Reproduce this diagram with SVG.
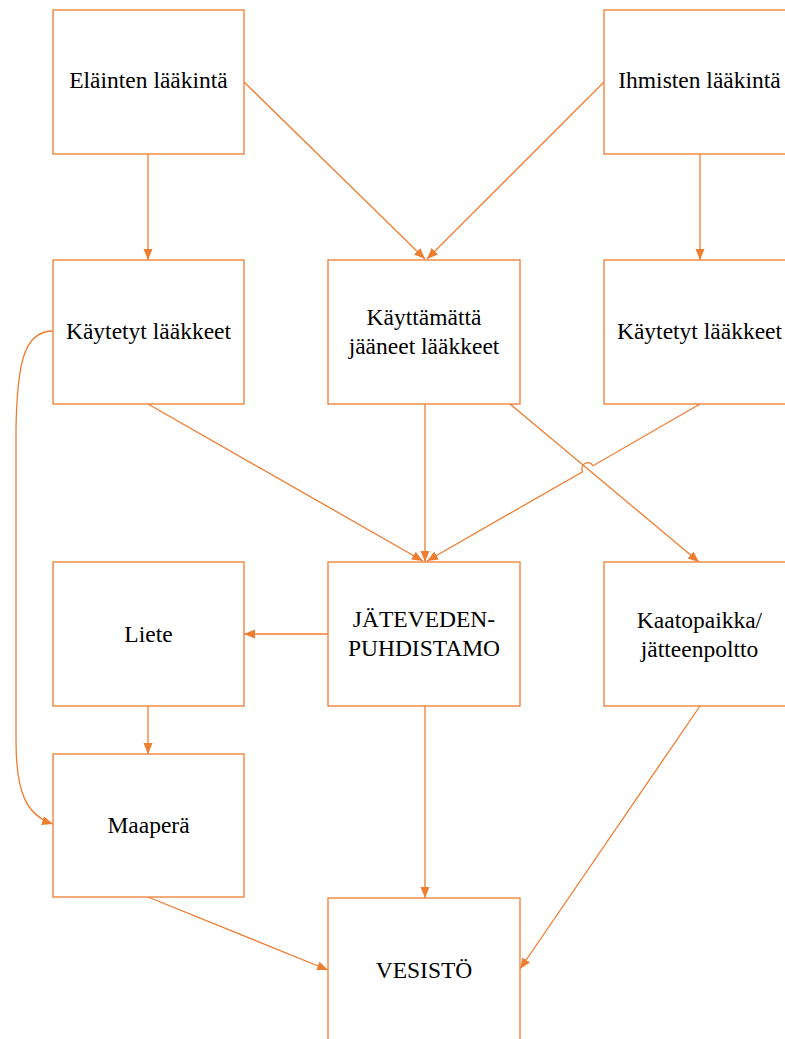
<svg xmlns="http://www.w3.org/2000/svg" width="785" height="1039" viewBox="0 0 785 1039">
  <style>
    .box { fill: #FFFFFF; stroke: #ED7D31; stroke-width: 1.3; }
    .lbl { font-family: "Liberation Serif", "Times New Roman", serif; font-size: 23.5px; fill: #000000; text-anchor: middle; }
    .edge { fill: none; stroke: #ED7D31; stroke-width: 1.3; marker-end: url(#arrow); }
  </style>
  <defs>
    <marker id="arrow" markerUnits="userSpaceOnUse" markerWidth="12" markerHeight="10" refX="11" refY="4.5" orient="auto">
      <path d="M0,0 L11,4.5 L0,9 z" fill="#ED7D31"/>
    </marker>
  </defs>
  <rect width="785" height="1039" fill="#FFFFFF"/>

  <!-- connectors -->
  <g id="connectors">
    <path class="edge" d="M148,154 L148,260"/>
    <path class="edge" d="M244,82 L425,259"/>
    <path class="edge" d="M604,82 L427,259"/>
    <path class="edge" d="M700,154 L700,260"/>
    <path class="edge" d="M148,404 L423,561"/>
    <path class="edge" d="M425,404 L425,562"/>
    <path class="edge" d="M700,404 L593,465.7 A6,6 0 0 0 582.6,471.7 L427,561"/>
    <path class="edge" d="M510,404 L699,562"/>
    <path class="edge" d="M328,634 L244,634"/>
    <path class="edge" d="M148,706 L148,754"/>
    <path class="edge" d="M425,706 L425,898"/>
    <path class="edge" d="M148,897 L328,970"/>
    <path class="edge" d="M700,706 L520,969"/>
    <path class="edge" d="M53,331 C25,331 17,360 16,430 L16,740 C16,790 25,815 53,824"/>
  </g>

  <!-- row 1 -->
  <g id="elainten-laakinta">
    <rect class="box" x="53" y="10" width="191" height="144"/>
    <text class="lbl" x="148.5" y="88">Eläinten lääkintä</text>
  </g>
  <g id="ihmisten-laakinta">
    <rect class="box" x="604" y="10" width="191" height="144"/>
    <text class="lbl" x="699.5" y="88">Ihmisten lääkintä</text>
  </g>

  <!-- row 2 -->
  <g id="kaytetyt-elain">
    <rect class="box" x="53" y="260" width="191" height="144"/>
    <text class="lbl" x="148.5" y="339">Käytetyt lääkkeet</text>
  </g>
  <g id="kayttamatta">
    <rect class="box" x="328" y="260" width="192" height="144"/>
    <text class="lbl" x="424" y="325">Käyttämättä</text>
    <text class="lbl" x="424" y="354">jääneet lääkkeet</text>
  </g>
  <g id="kaytetyt-ihmis">
    <rect class="box" x="604" y="260" width="191" height="144"/>
    <text class="lbl" x="699.5" y="339">Käytetyt lääkkeet</text>
  </g>

  <!-- row 3 -->
  <g id="liete">
    <rect class="box" x="53" y="562" width="191" height="144"/>
    <text class="lbl" x="148.5" y="642">Liete</text>
  </g>
  <g id="jatevedenpuhdistamo">
    <rect class="box" x="328" y="562" width="192" height="144"/>
    <text class="lbl" x="424" y="627">JÄTEVEDEN-</text>
    <text class="lbl" x="424" y="656">PUHDISTAMO</text>
  </g>
  <g id="kaatopaikka">
    <rect class="box" x="604" y="562" width="191" height="144"/>
    <text class="lbl" x="699.5" y="628">Kaatopaikka/</text>
    <text class="lbl" x="699.5" y="657">jätteenpoltto</text>
  </g>

  <!-- bottom rows -->
  <g id="maapera">
    <rect class="box" x="53" y="754" width="191" height="143"/>
    <text class="lbl" x="148.5" y="833">Maaperä</text>
  </g>
  <g id="vesisto">
    <rect class="box" x="328" y="898" width="192" height="160"/>
    <text class="lbl" x="424" y="978">VESISTÖ</text>
  </g>
</svg>
